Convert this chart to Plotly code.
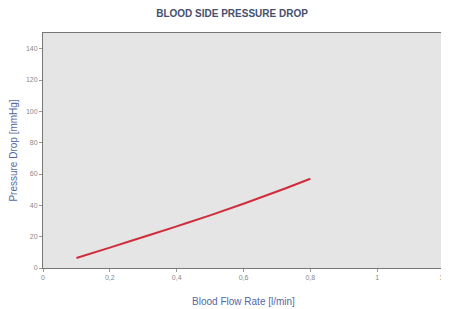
import plotly.graph_objects as go

flow_rate = [0.1, 0.2, 0.3, 0.4, 0.5, 0.6, 0.7, 0.8]
pressure_drop = [6.4, 13, 19.8, 26.6, 33.6, 41, 48.8, 57]
x_ticks = [0, 0.2, 0.4, 0.6, 0.8, 1, 1.2]
x_tick_labels = ["0", "0,2", "0,4", "0,6", "0,8", "1", "1,2"]
y_ticks = [0, 20, 40, 60, 80, 100, 120, 140]

fig = go.Figure()
fig.add_trace(go.Scatter(x=flow_rate, y=pressure_drop, mode="lines",
                         line=dict(color="#d02c3a", width=2, shape="spline"),
                         showlegend=False))

fig.update_layout(
    width=441, height=301,
    margin=dict(l=35, r=5, t=25, b=41),
    paper_bgcolor="white",
    plot_bgcolor="#e5e5e5",
    title=dict(text="<b>BLOOD SIDE PRESSURE DROP</b>", x=0.508, xanchor="center",
               y=0.982, yanchor="middle",
               font=dict(family="Liberation Sans, Arial", size=10, color="#46506e")),
    font=dict(family="Liberation Sans, Arial", size=7, color="#888888"),
)
fig.update_xaxes(range=[0, 1.2], tickvals=x_ticks, ticktext=x_tick_labels,
                 automargin=False,
                 showgrid=False, zeroline=False, showline=True, linecolor="#777777",
                 linewidth=1, mirror=True, ticks="outside", ticklen=3, tickcolor="#999999",
                 tickfont=dict(size=7, color="#888888"),
                 title=dict(text="Blood Flow Rate [l/min]", standoff=17,
                            font=dict(size=10, color="#5468a8")))
fig.update_yaxes(range=[0, 150], tickvals=y_ticks,
                 automargin=False,
                 showgrid=False, zeroline=False, showline=True, linecolor="#777777",
                 linewidth=1, mirror=True, ticks="outside", ticklen=3, tickcolor="#999999",
                 tickfont=dict(size=7, color="#888888"),
                 title=dict(text="Pressure Drop [mmHg]", standoff=15,
                            font=dict(size=10, color="#5468a8")))

fig.write_html("out.html")
